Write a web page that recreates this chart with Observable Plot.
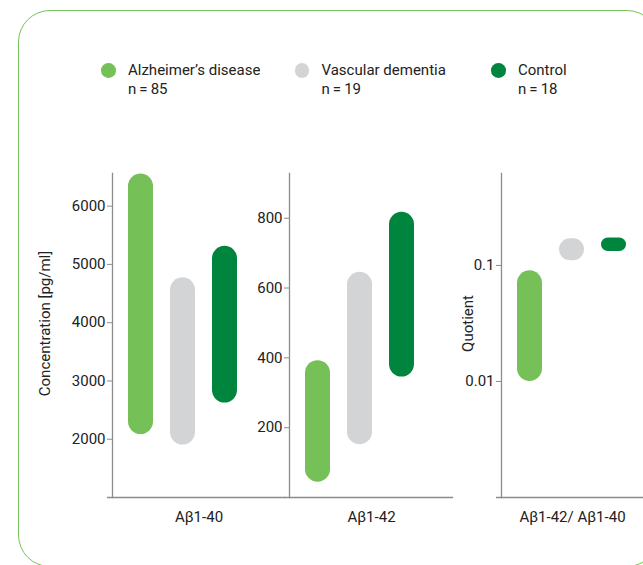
<!DOCTYPE html>
<html>
<head>
<meta charset="utf-8">
<script src="https://cdn.jsdelivr.net/npm/d3@7"></script>
<script src="https://cdn.jsdelivr.net/npm/@observablehq/plot@0.6"></script>
<style>
  html, body { margin: 0; padding: 0; background: #fff; overflow: hidden; }
  #chart { position: relative; width: 643px; height: 565px; overflow: hidden;
           font-family: Roboto, "Noto Sans", sans-serif; color: #222; }
  .box { position: absolute; left: 17.5px; top: 9.5px; width: 641px; height: 557px;
         border: 1.6px solid #78c25a; border-radius: 32px; box-sizing: border-box; }
  .legend-item { position: absolute; top: 61px; font-size: 15px; line-height: 19px; white-space: nowrap; }
  .legend-dot { position: absolute; top: 63px; width: 14.6px; height: 14.6px; border-radius: 50%; }
  .panel { position: absolute; top: 0; }
</style>
</head>
<body>
<div id="chart"><div class="box"></div></div>
<script>
// Patient groups, sample sizes and colours
const groups = ["Alzheimer’s disease", "Vascular dementia", "Control"];
const groupN = [85, 19, 18];
const groupColors = ["#76c157", "#d3d4d6", "#00853f"];

// Concentration ranges per group (low, high)
const ab40Low = [2080, 1900, 2620];
const ab40High = [6550, 4770, 5310];
const ab42Low = [44, 151, 345];
const ab42High = [392, 645, 817];
const ratioLow = [0.0100, 0.110, 0.132];
const ratioHigh = [0.090, 0.170, 0.172];

// Panel labels and tick values
const panelLabels = ["Aβ1-40", "Aβ1-42", "Aβ1-42/ Aβ1-40"];
const ab40Ticks = [2000, 3000, 4000, 5000, 6000];
const ab42Ticks = [200, 400, 600, 800];
const ratioTicks = [0.01, 0.1];

const chart = document.getElementById("chart");

// Legend: colour dot, group name and sample size
const legendX = [128, 321.5, 518];
groups.forEach((g, i) => {
  const dot = document.createElement("div");
  dot.className = "legend-dot";
  dot.style.left = (legendX[i] - 27) + "px";
  dot.style.background = groupColors[i];
  chart.appendChild(dot);
  const item = document.createElement("div");
  item.className = "legend-item";
  item.style.left = legendX[i] + "px";
  item.innerHTML = `${g}<br>n\u2009=\u2009${groupN[i]}`;
  chart.appendChild(item);
});

const axisGray = "#8c8c8c";
const textColor = "#222";

function drawPanel(o) {
  const rows = groups.map((g, i) => ({group: g, low: o.low[i], high: o.high[i]}));
  const marks = [
    Plot.frame({anchor: "left", stroke: axisGray, strokeWidth: 1.3}),
    Plot.ruleY([o.domain[0]], {stroke: axisGray, strokeWidth: 1.3, insetLeft: -5}),
    Plot.axisY({ticks: o.ticks, tickFormat: o.tickFormat, tickSize: 5, tickPadding: 2,
                fontSize: 15, stroke: axisGray, fill: textColor, label: null}),
    Plot.barY(rows, {x: "group", y1: "low", y2: "high", fill: "group"}),
    Plot.text([o.label], {frameAnchor: "bottom", dy: 24, fontSize: 15, fill: textColor})
  ];
  if (o.ylabel) {
    marks.push(Plot.text([o.ylabel], {frameAnchor: "left", textAnchor: "middle",
                                      dx: o.ylabelDx, dy: -12, rotate: -90,
                                      fontSize: 15, fill: textColor}));
  }
  const svg = Plot.plot({
    width: o.width,
    height: 565,
    marginLeft: o.marginLeft,
    marginRight: 0,
    marginTop: 173,
    marginBottom: 68,
    style: {background: "transparent", fontFamily: "Roboto, 'Noto Sans', sans-serif",
            fontSize: "15px", overflow: "visible"},
    x: {domain: groups, range: [o.marginLeft + 6.5, o.marginLeft + 134],
        paddingInner: 0.4, paddingOuter: 0.2, axis: null},
    y: {type: o.type, domain: o.domain, axis: null},
    color: {domain: groups, range: groupColors},
    marks
  });
  // capsule-shaped bars: fully rounded ends
  d3.select(svg).selectAll('g[aria-label="bar"] rect').each(function () {
    const w = +this.getAttribute("width"), h = +this.getAttribute("height");
    const r = Math.min(w, h) / 2;
    this.setAttribute("rx", r);
    this.setAttribute("ry", r);
  });
  svg.classList.add("panel");
  svg.style.left = o.left + "px";
  chart.appendChild(svg);
}

drawPanel({left: 0, width: 285, marginLeft: 112, type: "linear", domain: [1000, 6560],
           low: ab40Low, high: ab40High, ticks: ab40Ticks, tickFormat: d3.format("d"),
           label: panelLabels[0], ylabel: "Concentration [pg/ml]", ylabelDx: -67});
drawPanel({left: 220, width: 233, marginLeft: 69, type: "linear", domain: [0, 928],
           low: ab42Low, high: ab42High, ticks: ab42Ticks, tickFormat: d3.format("d"),
           label: panelLabels[1]});
drawPanel({left: 453, width: 190, marginLeft: 48, type: "log", domain: [0.001, 0.62],
           low: ratioLow, high: ratioHigh, ticks: ratioTicks, tickFormat: d => String(d),
           label: panelLabels[2], ylabel: "Quotient", ylabelDx: -33});
</script>
</body>
</html>
